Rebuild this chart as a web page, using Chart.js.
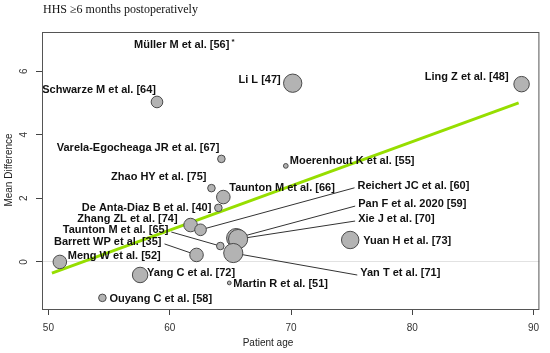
<!DOCTYPE html>
<html>
<head>
<meta charset="utf-8">
<script src="https://cdn.jsdelivr.net/npm/chart.js@4"></script>
<style>
  body { margin: 0; background: #fff; }
</style>
</head>
<body>
<canvas id="bubble-chart" width="550" height="353"></canvas>
<script>
// studies in the meta-regression (HHS >= 6 months)
let studies = [
    'Müller M et al. [56]', 'Schwarze M et al. [64]', 'Li L [47]', 'Ling Z et al. [48]',
    'Varela-Egocheaga JR et al. [67]', 'Moerenhout K et al. [55]', 'Zhao HY et al. [75]',
    'Taunton M et al. [66]', 'De Anta-Diaz B et al. [40]', 'Zhang ZL et al. [74]',
    'Reichert JC et al. [60]', 'Pan F et al. 2020 [59]', 'Xie J et al. [70]',
    'Taunton M et al. [65]', 'Yan T et al. [71]', 'Barrett WP et al. [35]',
    'Meng W et al. [52]', 'Yang C et al. [72]', 'Martin R et al. [51]',
    'Ouyang C et al. [58]', 'Yuan H et al. [73]'
];
let notes = ['*', '', '', '', '', '', '', '', '', '', '', '', '', '', '', '', '', '', '', '', ''];

let patientAge = [60.99, 58.95, 70.14, 89.01, 64.26, 69.57, 63.44, 64.42, 64.01, 61.72,
    62.54, 65.48, 65.64, 64.17, 65.24, 62.21, 50.94, 57.56, 64.91, 54.45, 74.88];
let meanDiff = [6.82, 5.03, 5.62, 5.59, 3.24, 3.02, 2.32, 2.04, 1.70, 1.16,
    1.01, 0.75, 0.72, 0.50, 0.28, 0.22, 0.00, -0.41, -0.66, -1.13, 0.69];
// relative study weight (bubble area)
let weights = [0, 8.5, 21, 15, 3.6, 1.4, 3.6, 11.5, 3.6, 11.5,
    8.5, 23, 23, 3.6, 23, 11.5, 11.5, 15, 0.9, 3.6, 19];

let fitAge = [50.29, 88.77];
let fitDiff = [-0.35, 5.0];

let xTicks = [50, 60, 70, 80, 90];
let yTicks = [0, 2, 4, 6];

// label placement: [align, dx, dy, leader line]
let labelPlace = [
    ['center', 0, 0, false], ['right', -1, -12, false], ['right', -12, -3, false],
    ['right', -13, -7, false], ['right', -2, -11, false], ['left', 4, -5, false],
    ['right', -5, -11, false], ['left', 6, -9, false], ['right', -7, 0, false],
    ['right', -13, -6, false], ['left', 157, -44, true], ['left', 122, -34, true],
    ['left', 120, -20, true], ['right', -52, -16, true], ['left', 127, 20, true],
    ['right', -35, -13, true], ['left', 8, -6, false], ['left', 7, -2, false],
    ['left', 4, 1, false], ['left', 7, 1, false], ['left', 13, 1, false]
];

let bubbles = [];
for (let i = 0; i < studies.length; i++) {
    bubbles.push({ x: patientAge[i], y: meanDiff[i], r: Math.sqrt(weights[i]) * 2 });
}
let fitLine = [];
for (let i = 0; i < fitAge.length; i++) {
    fitLine.push({ x: fitAge[i], y: fitDiff[i] });
}

let decor = {
    id: 'decor',
    beforeDatasetsDraw(chart) {
        let ctx = chart.ctx;
        let meta = chart.getDatasetMeta(1);
        ctx.save();
        ctx.strokeStyle = '#333';
        ctx.lineWidth = 1;
        for (let i = 0; i < studies.length; i++) {
            let p = labelPlace[i];
            if (!p[3]) continue;
            let pt = meta.data[i];
            let sx = pt.x + p[1] + (p[0] == 'left' ? -3 : 3);
            let sy = pt.y + p[2] + 2;
            ctx.beginPath();
            ctx.moveTo(sx, sy);
            ctx.lineTo(pt.x, pt.y);
            ctx.stroke();
        }
        ctx.restore();
    },
    afterDatasetsDraw(chart) {
        let ctx = chart.ctx;
        let meta = chart.getDatasetMeta(1);
        ctx.save();
        ctx.fillStyle = '#111';
        ctx.textBaseline = 'middle';
        for (let i = 0; i < studies.length; i++) {
            let p = labelPlace[i];
            let pt = meta.data[i];
            let lx = pt.x + p[1];
            let ly = pt.y + p[2];
            ctx.font = 'bold 11px "Liberation Sans"';
            ctx.textAlign = p[0];
            ctx.fillText(studies[i], lx, ly);
            if (notes[i]) {
                let w = ctx.measureText(studies[i]).width;
                let ex = p[0] == 'center' ? lx + w / 2 : (p[0] == 'left' ? lx + w : lx);
                ctx.font = 'bold 8px "Liberation Sans"';
                ctx.textAlign = 'left';
                ctx.fillText(notes[i], ex + 2, ly - 3);
            }
        }
        ctx.restore();
    },
    afterDraw(chart) {
        let ctx = chart.ctx;
        let a = chart.chartArea;
        let ys = chart.scales.y;
        ctx.save();
        // box round the plot
        ctx.strokeStyle = '#555';
        ctx.lineWidth = 1;
        ctx.strokeRect(a.left + 0.5, a.top + 0.5, a.right - a.left - 1, a.bottom - a.top);

        // y tick labels, turned like the original
        ctx.fillStyle = '#333';
        ctx.font = '10px "Liberation Sans"';
        ctx.textAlign = 'center';
        ctx.textBaseline = 'middle';
        yTicks.forEach(v => {
            ctx.save();
            ctx.translate(24, ys.getPixelForValue(v));
            ctx.rotate(-Math.PI / 2);
            ctx.fillText(String(v), 0, 0);
            ctx.restore();
        });

        // axis titles
        ctx.fillStyle = '#222';
        ctx.fillText('Patient age', 268, 343);
        ctx.save();
        ctx.translate(9, 170);
        ctx.rotate(-Math.PI / 2);
        ctx.fillText('Mean Difference', 0, 0);
        ctx.restore();

        // heading
        ctx.fillStyle = '#111';
        ctx.font = '12px "Liberation Serif"';
        ctx.textAlign = 'left';
        ctx.fillText('HHS \u22656 months postoperatively', 43, 10);
        ctx.restore();
    }
};

new Chart(document.getElementById('bubble-chart'), {
    type: 'bubble',
    data: {
        datasets: [{
            type: 'line',
            data: fitLine,
            borderColor: 'rgb(150,222,0)',
            borderWidth: 3,
            pointRadius: 0,
            fill: false,
            order: 2
        }, {
            data: bubbles,
            backgroundColor: '#b3b3b3',
            borderColor: '#4a4a4a',
            borderWidth: 1,
            hoverRadius: 0,
            order: 1
        }]
    },
    options: {
        responsive: false,
        animation: false,
        devicePixelRatio: 1,
        layout: { padding: { top: 32, right: 6, left: 0, bottom: 0 } },
        plugins: { legend: { display: false }, tooltip: { enabled: false } },
        scales: {
            x: {
                type: 'linear',
                min: 49.47,
                max: 90.48,
                afterBuildTicks: s => { s.ticks = xTicks.map(v => ({ value: v })); },
                afterFit: s => { s.height = 44; },
                border: { display: false },
                grid: { drawOnChartArea: false, tickLength: 6, color: '#444', tickColor: '#444' },
                ticks: { color: '#333', font: { family: 'Liberation Sans', size: 10 }, padding: 7, maxRotation: 0 }
            },
            y: {
                type: 'linear',
                min: -1.48,
                max: 7.23,
                afterBuildTicks: s => { s.ticks = yTicks.map(v => ({ value: v })); },
                afterFit: s => { s.width = 42; },
                border: { display: false },
                grid: {
                    tickLength: 6,
                    tickColor: '#444',
                    color: c => (c.tick && c.tick.value === 0) ? '#e2e2e2' : 'rgba(0,0,0,0)'
                },
                ticks: { display: false }
            }
        }
    },
    plugins: [decor]
});
</script>
</body>
</html>
